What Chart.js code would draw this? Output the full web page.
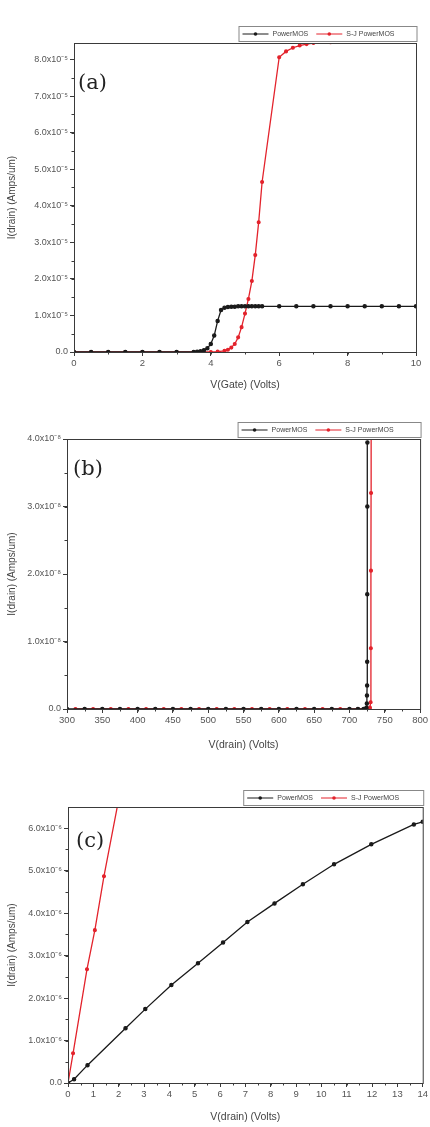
<!DOCTYPE html>
<html>
<head>
<meta charset="utf-8">
<script src="https://cdn.jsdelivr.net/npm/chart.js@4.4.0/dist/chart.umd.min.js"></script>
<style>
  html, body { margin: 0; padding: 0; background: #fff; }
  body { width: 430px; height: 1127px; position: relative; overflow: hidden; }
  .panel { position: absolute; left: 0; width: 430px; }
  .tag { position: absolute; font-family: "DejaVu Serif", "Liberation Serif", serif; font-size: 21px; color: #222; }
</style>
</head>
<body>
<div class="panel" style="top:0;height:395px"><canvas id="chart-a"></canvas></div>
<div class="panel" style="top:400px;height:355px"><canvas id="chart-b"></canvas></div>
<div class="panel" style="top:760px;height:367px"><canvas id="chart-c"></canvas></div>
<div class="tag" style="left:78px;top:70px">(a)</div>
<div class="tag" style="left:73px;top:456px">(b)</div>
<div class="tag" style="left:76px;top:828px">(c)</div>

<script>
/* Id-Vg / Id-Vd curves, PowerMOS vs S-J PowerMOS */

const SERIES_NAMES = ["PowerMOS", "S-J PowerMOS"];

// (a) I(drain) vs V(Gate), y in units of 1e-5
const A_BLACK_X = [0, 0.5, 1, 1.5, 2, 2.5, 3, 3.5, 3.6, 3.7, 3.8, 3.9, 4.0, 4.1, 4.2, 4.3, 4.4, 4.5, 4.6, 4.7, 4.8, 4.9, 5.0, 5.1, 5.2, 5.3, 5.4, 5.5, 6, 6.5, 7, 7.5, 8, 8.5, 9, 9.5, 10];
const A_BLACK_Y = [0, 0, 0, 0, 0, 0, 0, 0, 0.01, 0.02, 0.05, 0.1, 0.22, 0.45, 0.85, 1.15, 1.21, 1.23, 1.24, 1.24, 1.25, 1.25, 1.25, 1.25, 1.25, 1.25, 1.25, 1.25, 1.25, 1.25, 1.25, 1.25, 1.25, 1.25, 1.25, 1.25, 1.25];
const A_RED_X = [0, 0.5, 1, 1.5, 2, 2.5, 3, 3.5, 4, 4.2, 4.4, 4.5, 4.6, 4.7, 4.8, 4.9, 5.0, 5.1, 5.2, 5.3, 5.4, 5.5, 6.0, 6.2, 6.4, 6.6, 6.8, 7.0, 7.5, 8, 8.5, 9, 9.5, 10];
const A_RED_Y = [0, 0, 0, 0, 0, 0, 0, 0, 0, 0.01, 0.03, 0.06, 0.12, 0.22, 0.4, 0.68, 1.05, 1.45, 1.94, 2.65, 3.55, 4.65, 8.06, 8.22, 8.32, 8.38, 8.42, 8.45, 8.47, 8.48, 8.49, 8.5, 8.5, 8.5];

// (b) I(drain) vs V(drain), breakdown, y in units of 1e-8
const B_BLACK_X = [300, 325, 350, 375, 400, 425, 450, 475, 500, 525, 550, 575, 600, 625, 650, 675, 700, 712, 720, 724, 724.6, 724.8, 725, 725.1, 725.2, 725.3, 725.4];
const B_BLACK_Y = [0, 0, 0, 0, 0, 0, 0, 0, 0, 0, 0, 0, 0, 0, 0, 0, 0, 0, 0, 0.02, 0.08, 0.2, 0.35, 0.7, 1.7, 3.0, 3.95];
const B_RED_X = [312, 337, 362, 387, 412, 437, 462, 487, 512, 537, 562, 587, 612, 637, 662, 687, 712, 726, 729, 730, 730.3, 730.5, 730.6, 730.7];
const B_RED_Y = [0, 0, 0, 0, 0, 0, 0, 0, 0, 0, 0, 0, 0, 0, 0, 0, 0, 0, 0.02, 0.1, 0.9, 2.05, 3.2, 4.6];

// (c) I(drain) vs V(drain), linear region, y in units of 1e-6
const C_BLACK_X = [0, 0.24, 0.77, 2.27, 3.05, 4.08, 5.13, 6.12, 7.08, 8.15, 9.27, 10.5, 11.97, 13.65, 14];
const C_BLACK_Y = [0, 0.09, 0.42, 1.29, 1.74, 2.31, 2.82, 3.31, 3.79, 4.23, 4.68, 5.15, 5.62, 6.09, 6.15];
const C_RED_X = [0, 0.2, 0.75, 1.06, 1.42, 2.2];
const C_RED_Y = [0, 0.7, 2.68, 3.6, 4.87, 7.3];

const BLACK = "#1a1a1a";
const RED = "#e3232c";
const AXIS = "#3a3a3a";
const FONT = "'Liberation Sans', Arial, sans-serif";

function pts(xs, ys) {
  return xs.map((x, i) => ({ x, y: ys[i] }));
}

function sup(n) {
  const map = { "-": "\u207B", "0": "\u2070", "1": "\u00B9", "2": "\u00B2", "3": "\u00B3", "4": "\u2074", "5": "\u2075", "6": "\u2076", "7": "\u2077", "8": "\u2078", "9": "\u2079" };
  return String(n).split("").map(c => map[c]).join("");
}

// frame, minor ticks and boxed legend
const decor = {
  id: "decor",
  afterDraw(chart, args, opts) {
    const ctx = chart.ctx;
    const a = chart.chartArea;
    ctx.save();
    ctx.strokeStyle = AXIS;
    ctx.lineWidth = 1;
    ctx.strokeRect(a.left + 0.5, a.top + 0.5, a.right - a.left, a.bottom - a.top);

    // minor ticks
    const xs = chart.scales.x, ys = chart.scales.y;
    ctx.beginPath();
    for (let v = xs.min + opts.xMinor; v < xs.max; v += opts.xMinor) {
      const px = Math.round(xs.getPixelForValue(v)) + 0.5;
      ctx.moveTo(px, a.bottom); ctx.lineTo(px, a.bottom + 2.5);
    }
    for (let v = ys.min + opts.yMinor; v < ys.max; v += opts.yMinor) {
      const py = Math.round(ys.getPixelForValue(v)) + 0.5;
      ctx.moveTo(a.left, py); ctx.lineTo(a.left - 2.5, py);
    }
    ctx.stroke();

    // legend box above the top-right corner
    const h = 15, w = opts.legendWidth;
    const right = a.right + 0.5, bottom = a.top - 2;
    const left = right - w, top = bottom - h;
    ctx.fillStyle = "#fff";
    ctx.fillRect(left, top, w, h);
    ctx.strokeStyle = "#888";
    ctx.strokeRect(left + 0.5, top + 0.5, w, h);
    ctx.font = "7px " + FONT;
    ctx.textBaseline = "middle";
    let x = left + 4;
    const cy = top + h / 2 + 0.5;
    chart.data.datasets.forEach(ds => {
      ctx.strokeStyle = ds.borderColor;
      ctx.lineWidth = 1;
      ctx.beginPath(); ctx.moveTo(x, cy); ctx.lineTo(x + 26, cy); ctx.stroke();
      ctx.fillStyle = ds.borderColor;
      ctx.beginPath(); ctx.arc(x + 13, cy, 1.8, 0, Math.PI * 2); ctx.fill();
      ctx.fillStyle = "#444";
      ctx.fillText(ds.label, x + 30, cy);
      x += 30 + ctx.measureText(ds.label).width + 8;
    });
    ctx.restore();
  },
};

function makeChart(id, cfg) {
  const ctx = document.getElementById(id).getContext("2d");
  return new Chart(ctx, {
    type: "line",
    data: {
      datasets: [
        { label: SERIES_NAMES[0], data: pts(cfg.bx, cfg.by), borderColor: BLACK, backgroundColor: BLACK,
          borderWidth: 1.3, pointRadius: 1.6, pointHoverRadius: 2, tension: 0 },
        { label: SERIES_NAMES[1], data: pts(cfg.rx, cfg.ry), borderColor: RED, backgroundColor: RED,
          borderWidth: 1.3, pointRadius: 1.4, pointHoverRadius: 2, tension: 0 },
      ],
    },
    options: {
      responsive: true,
      maintainAspectRatio: false,
      animation: false,
      layout: { padding: { top: cfg.padTop, right: cfg.padRight, left: 0, bottom: 0 } },
      plugins: {
        legend: { display: false },
        tooltip: { enabled: false },
        decor: { xMinor: cfg.xMinor, yMinor: cfg.yMinor, legendWidth: cfg.legendWidth },
      },
      scales: {
        x: {
          type: "linear",
          min: cfg.xMin, max: cfg.xMax,
          grid: { drawOnChartArea: false, tickLength: 4, color: AXIS },
          border: { color: AXIS },
          ticks: { stepSize: cfg.xStep, color: "#555", font: { family: FONT, size: 9.5 }, padding: 2, maxRotation: 0 },
          title: { display: true, text: cfg.xTitle, color: "#444", font: { family: FONT, size: 10.5 }, padding: { top: 3 } },
          afterFit: s => { s.height = cfg.xAxisH; },
        },
        y: {
          min: 0, max: cfg.yMax,
          grid: { drawOnChartArea: false, tickLength: 4, color: AXIS },
          border: { color: AXIS },
          afterBuildTicks: s => { s.ticks = s.ticks.filter(t => Math.abs(t.value - Math.round(t.value)) < 1e-6); },
          ticks: {
            stepSize: 1, color: "#555", font: { family: FONT, size: 9 }, padding: 2,
            callback: v => v === 0 ? "0.0" : v.toFixed(1) + "x10" + sup(-cfg.exp),
          },
          title: { display: true, text: "I(drain) (Amps/um)", color: "#444", font: { family: FONT, size: 10 }, padding: { top: 6, bottom: 0 } },
          afterFit: s => { s.width = cfg.yAxisW; },
        },
      },
    },
    plugins: [decor],
  });
}

makeChart("chart-a", {
  bx: A_BLACK_X, by: A_BLACK_Y, rx: A_RED_X, ry: A_RED_Y,
  xMin: 0, xMax: 10, xStep: 2, xMinor: 1, yMax: 8.45, yMinor: 0.5, exp: 5,
  xTitle: "V(Gate) (Volts)", padTop: 43, padRight: 14, xAxisH: 43, yAxisW: 74, legendWidth: 178,
});

makeChart("chart-b", {
  bx: B_BLACK_X, by: B_BLACK_Y, rx: B_RED_X, ry: B_RED_Y,
  xMin: 300, xMax: 800, xStep: 50, xMinor: 25, yMax: 4, yMinor: 0.5, exp: 8,
  xTitle: "V(drain) (Volts)", padTop: 39, padRight: 6, xAxisH: 46, yAxisW: 67, legendWidth: 183,
});

makeChart("chart-c", {
  bx: C_BLACK_X, by: C_BLACK_Y, rx: C_RED_X, ry: C_RED_Y,
  xMin: 0, xMax: 14, xStep: 1, xMinor: 0.5, yMax: 6.5, yMinor: 0.5, exp: 6,
  xTitle: "V(drain) (Volts)", padTop: 47, padRight: 6, xAxisH: 44, yAxisW: 68, legendWidth: 180,
});
</script>
</body>
</html>
